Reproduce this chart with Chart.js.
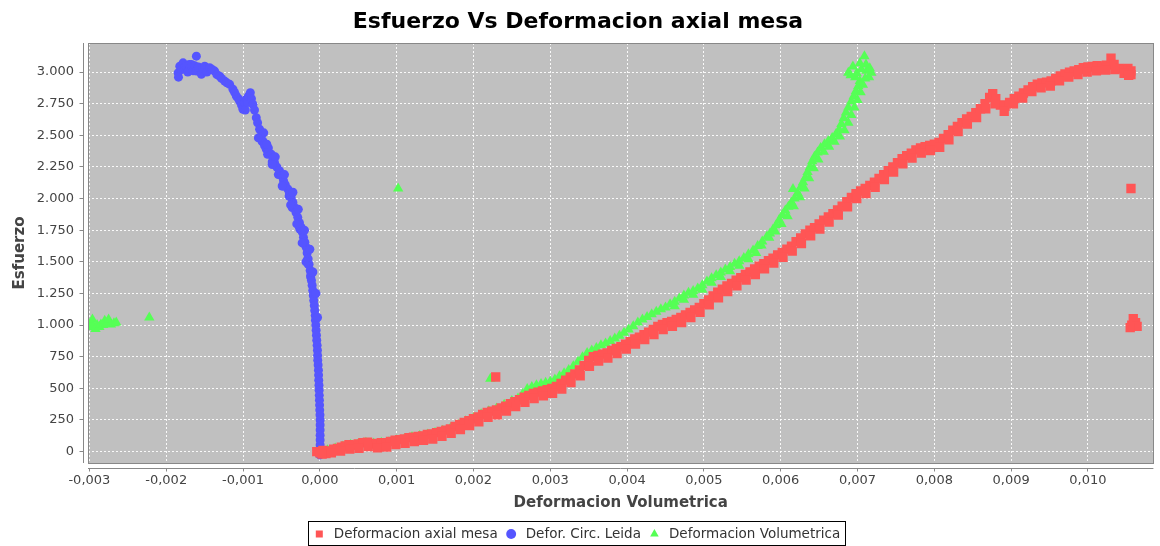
<!DOCTYPE html>
<html>
<head>
<meta charset="utf-8">
<script src="https://cdn.jsdelivr.net/npm/chart.js@4.4.0/dist/chart.umd.min.js"></script>
<style>
  html, body { margin: 0; padding: 0; background: #fff; }
</style>
</head>
<body>
<canvas id="chart" width="1160" height="546"></canvas>
<script>
const seriesNames = ['Deformacion axial mesa', 'Defor. Circ. Leida', 'Deformacion Volumetrica'];

// [deformacion, esfuerzo]
const axialMesa = [
  [-0.00004, 0], [0.00000, -10], [0.00004, 10], [0.00008, -15], [0.00013, 5], [0.00018, 20],
  [0.00023, 25], [0.00028, 35], [0.00033, 45], [0.00038, 55], [0.00044, 50], [0.00050, 60],
  [0.00056, 70], [0.00062, 75], [0.00068, 65], [0.00074, 60], [0.00080, 70], [0.00086, 70],
  [0.00092, 80], [0.00098, 90], [0.00104, 95], [0.00110, 100], [0.00116, 110], [0.00122, 115],
  [0.00128, 120], [0.00134, 125], [0.00140, 135], [0.00146, 140], [0.00152, 150], [0.00158, 160],
  [0.00164, 170], [0.00170, 180], [0.00176, 200], [0.00182, 215], [0.00188, 230], [0.00194, 245],
  [0.00200, 260], [0.00206, 275], [0.00212, 295], [0.00218, 310], [0.00224, 320], [0.00230, 330],
  [0.00236, 345], [0.00242, 360], [0.00248, 380], [0.00254, 395], [0.00260, 410], [0.00266, 430],
  [0.00272, 445], [0.00278, 460], [0.00284, 470], [0.00290, 480], [0.00296, 490], [0.00302, 500],
  [0.00308, 515], [0.00314, 540], [0.00320, 565], [0.00326, 590], [0.00332, 615], [0.00338, 645],
  [0.00344, 680], [0.00350, 720], [0.00356, 750], [0.00362, 760], [0.00368, 770], [0.00374, 780],
  [0.00380, 800], [0.00386, 815], [0.00392, 830], [0.00398, 850], [0.00404, 870], [0.00410, 890],
  [0.00416, 905], [0.00422, 925], [0.00428, 945], [0.00434, 965], [0.00440, 990], [0.00446, 1005],
  [0.00452, 1020], [0.00458, 1030], [0.00464, 1045], [0.00470, 1060], [0.00476, 1080], [0.00482, 1100],
  [0.00488, 1120], [0.00494, 1140], [0.00500, 1170], [0.00506, 1200], [0.00512, 1230], [0.00518, 1260],
  [0.00524, 1285], [0.00530, 1310], [0.00536, 1330], [0.00542, 1355], [0.00548, 1375], [0.00554, 1400],
  [0.00560, 1420], [0.00566, 1445], [0.00572, 1465], [0.00578, 1485], [0.00584, 1510], [0.00590, 1530],
  [0.00596, 1555], [0.00602, 1575], [0.00608, 1600], [0.00614, 1625], [0.00620, 1660], [0.00626, 1690],
  [0.00632, 1720], [0.00638, 1750], [0.00644, 1770], [0.00650, 1800], [0.00656, 1830], [0.00662, 1855],
  [0.00668, 1880], [0.00674, 1910], [0.00680, 1940], [0.00686, 1975], [0.00692, 2010], [0.00698, 2040],
  [0.00704, 2060], [0.00710, 2080], [0.00716, 2105], [0.00722, 2130], [0.00728, 2160], [0.00734, 2190],
  [0.00740, 2220], [0.00746, 2250], [0.00752, 2285], [0.00758, 2315], [0.00764, 2340], [0.00770, 2360],
  [0.00776, 2385], [0.00782, 2400], [0.00788, 2410], [0.00794, 2420], [0.00800, 2430], [0.00806, 2445],
  [0.00812, 2475], [0.00818, 2505], [0.00824, 2540], [0.00830, 2570], [0.00836, 2600], [0.00842, 2630],
  [0.00848, 2650], [0.00854, 2680], [0.00860, 2710], [0.00866, 2750], [0.00872, 2800], [0.00876, 2830],
  [0.00880, 2790], [0.00886, 2740], [0.00892, 2730], [0.00898, 2760], [0.00904, 2790], [0.00910, 2810],
  [0.00916, 2835], [0.00922, 2860], [0.00928, 2885], [0.00934, 2905], [0.00940, 2915], [0.00946, 2920],
  [0.00952, 2930], [0.00958, 2950], [0.00964, 2970], [0.00970, 2985], [0.00976, 3000], [0.00982, 3010],
  [0.00988, 3020], [0.00994, 3035], [0.01000, 3040], [0.01006, 3045], [0.01012, 3050], [0.01018, 3040],
  [0.01024, 3055], [0.01030, 3110], [0.01034, 3060], [0.01040, 3030], [0.01046, 3025], [0.01052, 3030],
  [0.01056, 3010], [0.01056, 2980],
  // lower edge of the band
  [0.00003, -20], [0.00015, -10], [0.00027, 5], [0.00039, 20], [0.00051, 25], [0.00063, 40],
  [0.00075, 30], [0.00087, 35], [0.00099, 55], [0.00111, 65], [0.00123, 80], [0.00135, 90],
  [0.00147, 100], [0.00159, 120], [0.00171, 145], [0.00183, 175], [0.00195, 205], [0.00207, 235],
  [0.00219, 270], [0.00231, 290], [0.00243, 320], [0.00255, 355], [0.00267, 390], [0.00279, 420],
  [0.00291, 440], [0.00303, 460], [0.00315, 495], [0.00327, 545], [0.00339, 600], [0.00351, 675],
  [0.00363, 715], [0.00375, 740], [0.00387, 775], [0.00399, 810], [0.00411, 850], [0.00423, 885],
  [0.00435, 925], [0.00447, 965], [0.00459, 990], [0.00471, 1020], [0.00483, 1060], [0.00495, 1100],
  [0.00507, 1160], [0.00519, 1215], [0.00531, 1265], [0.00543, 1310], [0.00555, 1355], [0.00567, 1400],
  [0.00579, 1445], [0.00591, 1490], [0.00603, 1535], [0.00615, 1585], [0.00627, 1645], [0.00639, 1705],
  [0.00651, 1760], [0.00663, 1815], [0.00675, 1870], [0.00687, 1935], [0.00699, 2000], [0.00711, 2040],
  [0.00723, 2090], [0.00735, 2150], [0.00747, 2210], [0.00759, 2275], [0.00771, 2320], [0.00783, 2360],
  [0.00795, 2380], [0.00807, 2405], [0.00819, 2465], [0.00831, 2530], [0.00843, 2590], [0.00855, 2640],
  [0.00867, 2710], [0.00879, 2750], [0.00891, 2690], [0.00903, 2750], [0.00915, 2795], [0.00927, 2845],
  [0.00939, 2875], [0.00951, 2890], [0.00963, 2930], [0.00975, 2960], [0.00987, 2980], [0.00999, 3000],
  [0.01011, 3010], [0.01023, 3015], [0.01035, 3020], [0.01047, 2990], [0.01053, 2975],
  // stray points
  [0.00229, 590], [0.01056, 2080], [0.01057, 1000], [0.01062, 1020], [0.01059, 1050], [0.01064, 990], [0.01055, 980]
];

const circLeida = [
  [-0.001845, 2994], [-0.00184, 2960], [-0.001823, 3047], [-0.00180, 3020], [-0.00178, 3073], [-0.00176, 3040],
  [-0.001736, 3034], [-0.00172, 3000], [-0.00170, 3060], [-0.001671, 3061], [-0.00165, 3010], [-0.00163, 3050],
  [-0.001607, 3126], [-0.001607, 3008], [-0.00158, 3040], [-0.001542, 2982], [-0.00152, 3030], [-0.001499, 3047],
  [-0.00147, 3000], [-0.001434, 3034], [-0.00140, 3020], [-0.001369, 3008], [-0.00134, 2980], [-0.001304, 2968],
  [-0.00128, 2950], [-0.001239, 2929], [-0.00121, 2915], [-0.001174, 2903], [-0.001131, 2864], [-0.00111, 2840],
  [-0.001087, 2811], [-0.00106, 2790], [-0.001044, 2771], [-0.00102, 2740], [-0.001001, 2706], [-0.00098, 2760],
  [-0.00097, 2700], [-0.000957, 2785], [-0.00094, 2760], [-0.00093, 2810], [-0.000905, 2837], [-0.00089, 2790],
  [-0.000871, 2745], [-0.00085, 2700], [-0.000827, 2640], [-0.00081, 2600], [-0.000784, 2548], [-0.00076, 2500],
  [-0.00075, 2450], [-0.000742, 2456], [-0.00072, 2420], [-0.000697, 2391], [-0.00068, 2350], [-0.00067, 2400],
  [-0.000632, 2351], [-0.00062, 2290], [-0.00061, 2320], [-0.00059, 2285], [-0.00056, 2250], [-0.00054, 2190],
  [-0.000525, 2220], [-0.00050, 2180], [-0.00048, 2100], [-0.000473, 2141], [-0.00045, 2110], [-0.000417, 2076],
  [-0.00040, 2020], [-0.000395, 2040], [-0.000373, 2009], [-0.00036, 1930], [-0.00035, 1970], [-0.00033, 1931],
  [-0.00031, 1890], [-0.000287, 1852], [-0.00027, 1780], [-0.000265, 1810], [-0.00026, 1760], [-0.000243, 1773],
  [-0.000228, 1735], [-0.000213, 1694], [-0.00021, 1650], [-0.000195, 1655], [-0.000178, 1615], [-0.000165, 1570],
  [-0.00016, 1520], [-0.000152, 1524], [-0.00015, 1480], [-0.00014, 1480], [-0.000126, 1432], [-0.00012, 1380],
  [-0.000118, 1395], [-0.000109, 1353], [-0.00010, 1315], [-0.000092, 1274], [-0.000085, 1235], [-0.000079, 1195],
  [-0.000072, 1155], [-0.000066, 1116], [-0.00006, 1075], [-0.000057, 1038], [-0.000052, 1000], [-0.000048, 959],
  [-0.000044, 920], [-0.00004, 880], [-0.000035, 840], [-0.000031, 801], [-0.000029, 760], [-0.000027, 723],
  [-0.000022, 685], [-0.000018, 644], [-0.000016, 605], [-0.000014, 565], [-0.000011, 525], [-0.000009, 486],
  [-0.000007, 445], [-0.000005, 407], [-0.000003, 368], [-0.000001, 328], [0.000002, 290], [0.000004, 250],
  [0.000004, 210], [0.000004, 171], [0.000004, 130], [0.000004, 92], [0.000004, 52], [0.000004, 13], [0, -26],
  // right and left edges of the band
  [-0.00073, 2520], [-0.00069, 2430], [-0.00058, 2330], [-0.00046, 2190], [-0.00035, 2050], [-0.00028, 1915],
  [-0.00020, 1750], [-0.00013, 1600], [-0.00009, 1420], [-0.00005, 1250], [-0.00003, 1060],
  [-0.00080, 2480], [-0.00062, 2270], [-0.00049, 2100], [-0.00038, 1950], [-0.00030, 1800], [-0.00023, 1650],
  [-0.00018, 1500]
];

const volumetrica = [
  [-0.00300, 985], [-0.002985, 1015], [-0.00296, 1045], [-0.002945, 990], [-0.00292, 970], [-0.00290, 1000],
  [-0.00287, 985], [-0.00285, 1005], [-0.00282, 1000], [-0.00280, 1035], [-0.00278, 1010], [-0.00275, 1045],
  [-0.00272, 1005], [-0.00268, 1015], [-0.00265, 1020], [-0.00222, 1060],
  [0.00102, 2080], [0.00222, 575],
  [0.0000, 0], [0.0001, 10], [0.0002, 25], [0.0003, 40], [0.0004, 55], [0.0005, 60], [0.0006, 70],
  [0.0007, 65], [0.0008, 70], [0.0009, 75], [0.0010, 90], [0.0011, 100], [0.0012, 115], [0.0013, 125],
  [0.0014, 135], [0.0015, 150], [0.0016, 165], [0.0017, 185], [0.0018, 210], [0.0019, 240], [0.0020, 265],
  [0.0021, 295], [0.0022, 320], [0.0023, 340], [0.0024, 370], [0.0025, 400],
  [0.00258, 420], [0.00264, 455], [0.00270, 495], [0.00276, 510], [0.00282, 525], [0.00288, 535],
  [0.00294, 545], [0.00300, 555], [0.00306, 570], [0.00312, 595], [0.00318, 620], [0.00324, 645],
  [0.00330, 675], [0.00336, 710], [0.00342, 745], [0.00348, 780], [0.00354, 800], [0.00360, 820],
  [0.00366, 840], [0.00372, 855], [0.00378, 875], [0.00384, 895], [0.00390, 915], [0.00396, 940],
  [0.00402, 965], [0.00408, 990], [0.00414, 1020], [0.00420, 1045], [0.00426, 1065], [0.00432, 1085],
  [0.00438, 1105], [0.00444, 1125], [0.00450, 1140], [0.00456, 1165], [0.00462, 1185], [0.00468, 1210],
  [0.00474, 1235], [0.00480, 1255], [0.00486, 1270], [0.00492, 1290], [0.00498, 1315], [0.00504, 1345],
  [0.00510, 1370], [0.00516, 1395], [0.00522, 1415], [0.00528, 1440], [0.00534, 1460], [0.00540, 1485],
  [0.00546, 1505], [0.00552, 1530], [0.00558, 1560], [0.00564, 1590], [0.00570, 1625], [0.00576, 1660],
  [0.00582, 1700], [0.00586, 1725], [0.00590, 1755], [0.00594, 1790], [0.00598, 1830], [0.00602, 1870],
  [0.00606, 1905], [0.00610, 1935], [0.00614, 1970], [0.00618, 2000], [0.00616, 2075], [0.00622, 2045],
  [0.00626, 2090], [0.00629, 2130], [0.00632, 2165], [0.00635, 2210], [0.00638, 2250], [0.00641, 2295],
  [0.00644, 2330], [0.00648, 2365], [0.00652, 2400], [0.00657, 2430], [0.00662, 2455], [0.00667, 2480],
  [0.00672, 2510], [0.00676, 2545], [0.00679, 2590], [0.00682, 2635], [0.00685, 2680], [0.00688, 2720],
  [0.00692, 2770], [0.00695, 2810], [0.00698, 2850], [0.00701, 2890], [0.00703, 2930], [0.00697, 2960],
  [0.00699, 2990], [0.00705, 3020], [0.00711, 3060], [0.00709, 3126], [0.00718, 2995], [0.00688, 2995],
  [0.00694, 3045], [0.00715, 2960], [0.00712, 3010],
  // lower edge of the middle part
  [0.00462, 1150], [0.00474, 1200], [0.00486, 1240], [0.00498, 1280], [0.00510, 1335], [0.00522, 1380],
  [0.00534, 1425], [0.00546, 1470], [0.00558, 1520], [0.00568, 1570],
  // right edge of the steep part
  [0.00575, 1630], [0.00585, 1690], [0.00593, 1740], [0.00601, 1800], [0.00609, 1860], [0.00617, 1940],
  [0.00625, 2010], [0.00631, 2080], [0.00637, 2160], [0.00643, 2240], [0.00649, 2310], [0.00656, 2370],
  [0.00663, 2410], [0.00670, 2450], [0.00677, 2490], [0.00683, 2540], [0.00688, 2600], [0.00692, 2660],
  [0.00696, 2720], [0.00700, 2780], [0.00704, 2840], [0.00707, 2900], [0.00710, 2950], [0.00716, 3030],
  [0.00703, 3070], [0.00691, 2975]
];

const xRange = [-0.003018, 0.010852];
const yRange = [-90, 3230];
const xStep = 0.001;
const yStep = 250;

const fmtX = v => (v < 0 ? '-' : '') + Math.abs(v).toFixed(3).replace('.', ',');
const fmtY = v => String(Math.round(v)).replace(/\B(?=(\d{3})+(?!\d))/g, '.');

Chart.defaults.font.family = 'DejaVu Sans';

// grey plot background, offset axis lines and the boxed legend
const frame = {
  id: 'frame',
  beforeDraw(chart) {
    const { ctx, chartArea: a } = chart;
    ctx.save();
    ctx.fillStyle = '#c0c0c0';
    ctx.fillRect(a.left, a.top, a.right - a.left, a.bottom - a.top);
    ctx.restore();
  },
  afterDraw(chart) {
    const { ctx, chartArea: a, scales } = chart;
    const align = p => Math.round(p - 0.5) + 0.5;
    ctx.save();
    ctx.strokeStyle = '#888';
    ctx.lineWidth = 1;
    ctx.strokeRect(align(a.left), align(a.top), Math.round(a.right - a.left), Math.round(a.bottom - a.top));

    const xLineY = align(a.bottom + 5);
    const yLineX = align(a.left - 5);
    ctx.beginPath();
    ctx.moveTo(a.left, xLineY); ctx.lineTo(a.right, xLineY);
    ctx.moveTo(yLineX, a.top); ctx.lineTo(yLineX, a.bottom);
    scales.x.ticks.forEach(t => {
      const px = align(scales.x.getPixelForValue(t.value));
      ctx.moveTo(px, xLineY); ctx.lineTo(px, xLineY + 3);
    });
    scales.y.ticks.forEach(t => {
      const py = align(scales.y.getPixelForValue(t.value));
      ctx.moveTo(yLineX, py); ctx.lineTo(yLineX - 4, py);
    });
    ctx.stroke();

    const boxes = chart.legend.legendHitBoxes;
    if (boxes && boxes.length) {
      const first = boxes[0], last = boxes[boxes.length - 1];
      const left = align(first.left - 7);
      const right = align(last.left + last.width + 5);
      const top = align(chart.legend.top + 3.75);
      ctx.strokeStyle = '#000';
      ctx.strokeRect(left, top, right - left, 545.5 - top);
    }
    ctx.restore();
  }
};

const makeSet = (label, pts, color, style, radius) => ({
  label,
  data: pts.map(([x, y]) => ({ x, y })),
  backgroundColor: color,
  borderColor: color,
  borderWidth: 0,
  pointStyle: style,
  pointRadius: radius,
  pointHoverRadius: radius
});

new Chart(document.getElementById('chart').getContext('2d'), {
  type: 'scatter',
  data: {
    datasets: [
      makeSet(seriesNames[0], axialMesa, '#ff5555', 'rect', 6.6),
      makeSet(seriesNames[1], circLeida, '#5555ff', 'circle', 4.5),
      makeSet(seriesNames[2], volumetrica, '#55ff55', 'triangle', 6)
    ]
  },
  options: {
    responsive: false,
    animation: false,
    events: [],
    layout: { padding: { left: 0, right: 4, top: 0, bottom: -4.75 } },
    plugins: {
      title: {
        display: true,
        text: 'Esfuerzo Vs Deformacion axial mesa',
        color: '#000',
        font: { size: 22, weight: 'bold' },
        padding: { top: 9, bottom: 7.6 }
      },
      legend: {
        position: 'bottom',
        labels: {
          usePointStyle: true,
          boxWidth: 7,
          boxHeight: 7,
          padding: 10,
          color: '#333',
          font: { size: 13.5 },
          generateLabels: chart =>
            Chart.defaults.plugins.legend.labels.generateLabels(chart).map(l => ({ ...l, text: ' ' + l.text }))
        }
      },
      tooltip: { enabled: false }
    },
    scales: {
      x: {
        type: 'linear',
        position: 'bottom',
        min: xRange[0],
        max: xRange[1],
        afterFit: s => { s.height = 54.25; },
        grid: { color: 'rgba(255,255,255,0.9)', lineWidth: 1, drawTicks: false },
        border: { display: false, dash: [2, 2] },
        ticks: {
          stepSize: xStep,
          includeBounds: false,
          padding: 10,
          color: '#444',
          font: { size: 13 },
          maxRotation: 0,
          autoSkip: false,
          callback: v => fmtX(v)
        },
        title: {
          display: true,
          text: 'Deformacion Volumetrica',
          color: '#444',
          font: { size: 15, weight: 'bold' },
          padding: { top: 0, bottom: 5.25 }
        }
      },
      y: {
        type: 'linear',
        min: yRange[0],
        max: yRange[1],
        afterFit: s => { s.width = 88; },
        grid: { color: 'rgba(255,255,255,0.9)', lineWidth: 1, drawTicks: false },
        border: { display: false, dash: [2, 2] },
        ticks: {
          stepSize: yStep,
          includeBounds: false,
          padding: 14,
          color: '#444',
          font: { size: 13 },
          autoSkip: false,
          callback: v => fmtY(v)
        },
        title: {
          display: true,
          text: 'Esfuerzo',
          color: '#444',
          font: { size: 15, weight: 'bold' },
          padding: { top: 11, bottom: 0 }
        }
      }
    }
  },
  plugins: [frame]
});
</script>
</body>
</html>
